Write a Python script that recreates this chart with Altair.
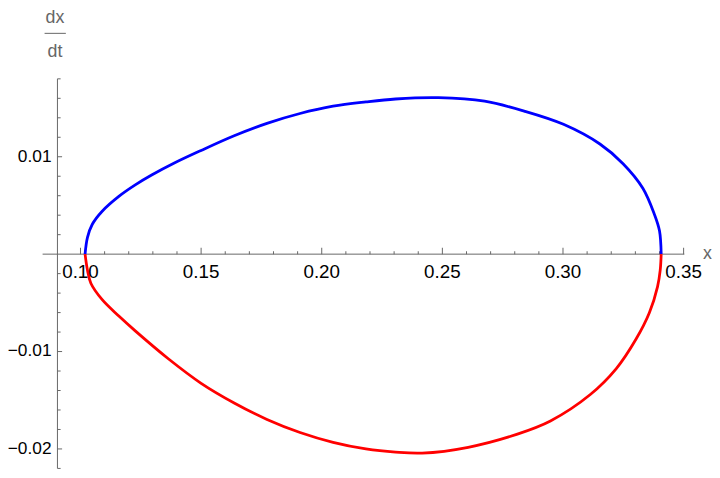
import altair as alt
import pandas as pd

# ---- data ----
# upper branch (blue, dx/dt > 0), left to right
UPPER_X = [0.1019, 0.1029, 0.1049, 0.1090, 0.1159, 0.1227, 0.1295, 0.1391, 0.1500,
           0.1637, 0.1773, 0.1910, 0.2047, 0.2183, 0.2306, 0.2484, 0.2675, 0.2839,
           0.3002, 0.3153, 0.3249, 0.3331, 0.3379, 0.3400, 0.3407]
UPPER_Y = [0.0, 0.00172, 0.00307, 0.00441, 0.00593, 0.00711, 0.00812, 0.00938, 0.01065,
           0.01216, 0.01343, 0.01444, 0.01519, 0.01563, 0.01593, 0.01606, 0.01570, 0.01469,
           0.01333, 0.01131, 0.00929, 0.00677, 0.00408, 0.00239, 0.0]
# lower branch (red, dx/dt < 0), left to right
LOWER_X = [0.1019, 0.1029, 0.1043, 0.1090, 0.1159, 0.1227, 0.1364, 0.1500, 0.1637,
           0.1773, 0.1910, 0.2047, 0.2183, 0.2306, 0.2416, 0.2607, 0.2811, 0.2948,
           0.3112, 0.3221, 0.3303, 0.3358, 0.3392, 0.3403, 0.3407]
LOWER_Y = [0.0, -0.00165, -0.00299, -0.00468, -0.00636, -0.00788, -0.01074, -0.01326,
           -0.01528, -0.01697, -0.01831, -0.01932, -0.02000, -0.02033, -0.02043, -0.01983,
           -0.01848, -0.01713, -0.01444, -0.01175, -0.00872, -0.00602, -0.00333, -0.00165,
           0.0]

X_LABELS = [0.10, 0.15, 0.20, 0.25, 0.30, 0.35]
X_MINOR = [0.11, 0.12, 0.13, 0.14, 0.16, 0.17, 0.18, 0.19, 0.21, 0.22, 0.23, 0.24,
           0.26, 0.27, 0.28, 0.29, 0.31, 0.32, 0.33, 0.34]
Y_LABELS = [0.01, -0.01, -0.02]
Y_MINOR = [0.018, 0.016, 0.014, 0.012, 0.008, 0.006, 0.004, 0.002, -0.002, -0.004,
           -0.006, -0.008, -0.012, -0.014, -0.016, -0.018, -0.022]

X_DOMAIN = [0.0843, 0.35029]
Y_DOMAIN = [-0.022, 0.018]
AXIS_X = 0.09045  # where the vertical axis crosses
AXIS_Y = 0.0      # where the horizontal axis crosses

W, H = 649, 394
GREY = "#666666"
FONT = "Liberation Sans"

rows = []
for i, (x, y) in enumerate(zip(UPPER_X, UPPER_Y)):
    rows.append({"x": x, "y": y, "branch": "upper", "order": i})
for i, (x, y) in enumerate(zip(LOWER_X, LOWER_Y)):
    rows.append({"x": x, "y": y, "branch": "lower", "order": i})
curve = pd.DataFrame(rows)

xs = alt.Scale(domain=X_DOMAIN, zero=False, nice=False)
ys = alt.Scale(domain=Y_DOMAIN, zero=False, nice=False)
yaxis_px = (AXIS_X - X_DOMAIN[0]) / (X_DOMAIN[1] - X_DOMAIN[0]) * W


def X(f="x"):
    return alt.X(f + ":Q", scale=xs, axis=None)


def Y(f="y"):
    return alt.Y(f + ":Q", scale=ys, axis=None)


line = alt.Chart(curve).mark_line(strokeWidth=2.8, interpolate="catmull-rom").encode(
    x=X(), y=Y(),
    color=alt.Color("branch:N", scale=alt.Scale(domain=["upper", "lower"],
                                                 range=["#0000ff", "#ff0000"]),
                    legend=None),
    order="order:Q",
)

# axis lines
x_axis_line = alt.Chart(pd.DataFrame({"x": [X_DOMAIN[0]], "x2": [X_DOMAIN[1]],
                                      "y": [AXIS_Y]})).mark_rule(
    color=GREY, strokeWidth=1).encode(x=X(), x2="x2:Q", y=Y())
y_axis_line = alt.Chart(pd.DataFrame({"x": [AXIS_X], "y": [Y_DOMAIN[0]],
                                      "y2": [Y_DOMAIN[1]]})).mark_rule(
    color=GREY, strokeWidth=1).encode(x=X(), y=Y(), y2="y2:Q")


def xticks(vals, size):
    df = pd.DataFrame({"x": vals, "y": [AXIS_Y] * len(vals)})
    return alt.Chart(df).mark_tick(
        orient="vertical", size=size, thickness=1, color=GREY, opacity=1,
        yOffset=-size / 2).encode(x=X(), y=Y())


def yticks(vals, size):
    df = pd.DataFrame({"x": [AXIS_X] * len(vals), "y": vals})
    return alt.Chart(df).mark_tick(
        orient="horizontal", size=size, thickness=1, color=GREY, opacity=1,
        xOffset=size / 2).encode(x=X(), y=Y())


x_labels = alt.Chart(pd.DataFrame({"x": X_LABELS, "y": [AXIS_Y] * len(X_LABELS)})).transform_calculate(
    lab="format(datum.x, '.2f')").mark_text(
    font=FONT, fontSize=19, color="black", align="center", baseline="top", dy=9).encode(
    x=X(), y=Y(), text="lab:N")
y_labels = alt.Chart(pd.DataFrame({"x": [AXIS_X] * len(Y_LABELS), "y": Y_LABELS})).transform_calculate(
    lab="replace(format(datum.y, '.2f'), '-', '\u2212')").mark_text(
    font=FONT, fontSize=17.5, color="black", align="right", baseline="middle", dx=-6).encode(
    x=X(), y=Y(), text="lab:N")

x_title = alt.Chart(pd.DataFrame({"x": [X_DOMAIN[1]], "y": [AXIS_Y]})).mark_text(
    font=FONT, fontSize=18, color=GREY, align="left", baseline="alphabetic",
    dx=19, dy=5, text="x").encode(x=X(), y=Y())

one = pd.DataFrame({"a": [0]})
dx_text = alt.Chart(one).mark_text(
    font=FONT, fontSize=18, color=GREY, align="center", baseline="alphabetic",
    text="dx").encode(x=alt.value(yaxis_px - 2.5), y=alt.value(-56))
dt_text = alt.Chart(one).mark_text(
    font=FONT, fontSize=18, color=GREY, align="center", baseline="alphabetic",
    text="dt").encode(x=alt.value(yaxis_px - 2.5), y=alt.value(-22))
frac_bar = alt.Chart(one).mark_rule(color=GREY, strokeWidth=1).encode(
    x=alt.value(yaxis_px - 13), x2=alt.value(yaxis_px + 8.5), y=alt.value(-46))

chart = alt.layer(
    x_axis_line, y_axis_line,
    xticks(X_LABELS, 6.5), xticks(X_MINOR, 3),
    yticks(Y_LABELS, 4.7), yticks(Y_MINOR, 3.2),
    line,
    x_labels, y_labels, x_title,
    dx_text, dt_text, frac_bar,
).properties(
    width=W, height=H,
    autosize=alt.AutoSizeParams(type="none"),
    padding={"left": 35, "top": 69, "right": 28, "bottom": 2},
).configure_view(stroke=None)

chart.save("out.html", embed_options={"renderer": "svg", "actions": False})
